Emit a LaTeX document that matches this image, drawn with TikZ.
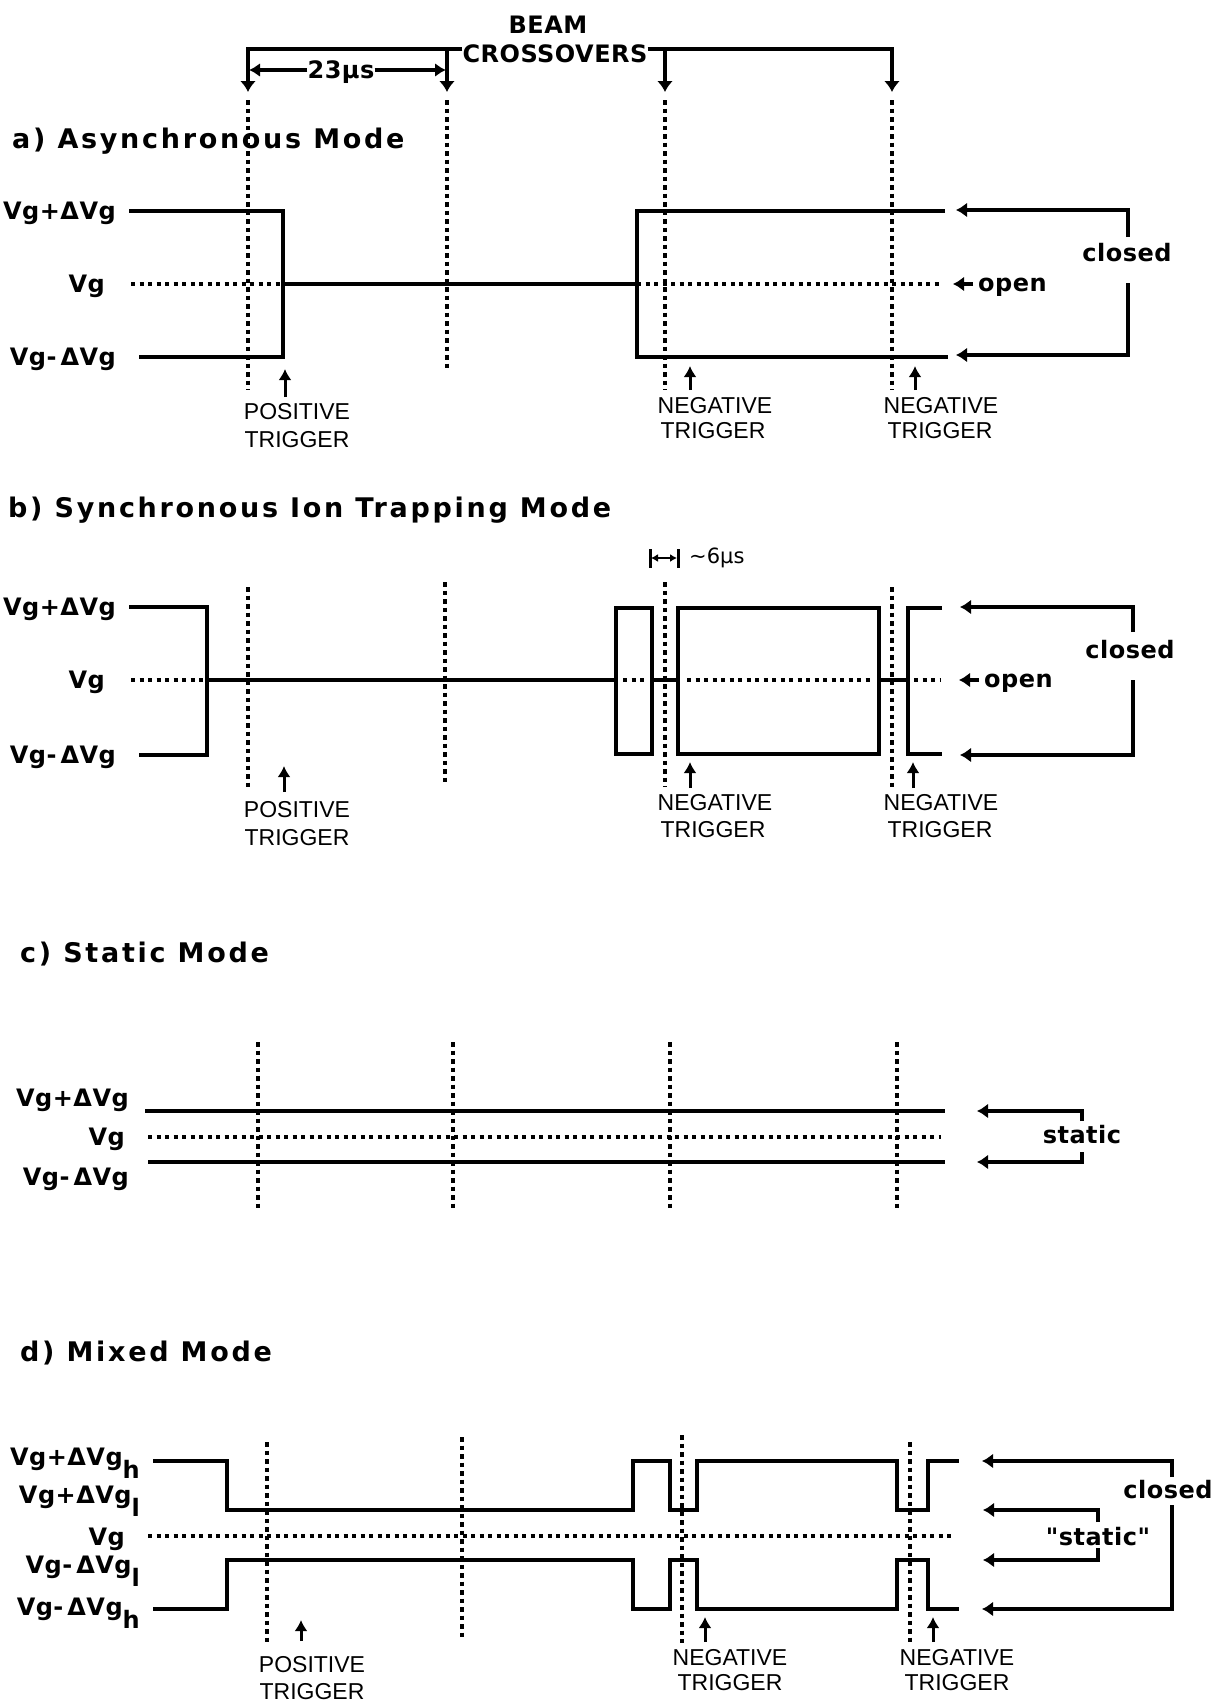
\documentclass[tikz,border=0pt]{standalone}
\usepackage{fontspec}
\usetikzlibrary{arrows.meta}
\newfontfamily\ttlfont[LetterSpace=10]{DejaVu Sans}
\newfontfamily\lblfont[LetterSpace=2]{DejaVu Sans}
\newfontfamily\trgfont{Liberation Sans}
\newfontfamily\smlfont{DejaVu Sans}
\begin{document}
\begin{tikzpicture}[x=1pt,y=-1pt,
  wave/.style={line width=4pt},
  vdot/.style={line width=4pt,dash pattern=on 4.5pt off 4pt},
  hdot/.style={line width=4pt,dash pattern=on 4pt off 4.5pt},
  brk/.style={line width=4pt},
  barrow/.style={line width=4pt,-{Latex[width=16pt,length=11pt]}},
  larrow/.style={line width=4pt,-{Latex[width=15pt,length=11pt]}},
  trig/.style={line width=3pt,-{Latex[width=13pt,length=11pt]}},
  ttl/.style={font={\ttlfont\bfseries\fontsize{27}{32}\selectfont},anchor=base west,inner sep=0pt},
  lbl/.style={font={\lblfont\bfseries\fontsize{24}{28}\selectfont},inner sep=0pt},
  trg/.style={font={\trgfont\fontsize{23}{27}\selectfont},anchor=base,inner sep=0pt},
  sml/.style={font={\smlfont\fontsize{21}{25}\selectfont},inner sep=0pt}
]
\useasboundingbox[fill=white] (0,0) rectangle (1228,1703);

% ---------------- top bracket ----------------
\node[lbl,anchor=base] (beam) at (548,33) {BEAM};
\node[lbl,anchor=base] (cross) at (555,62) {CROSSOVERS};
\draw[barrow] (cross.west |- 0,49) -- (248,49) -- (248,92);
\draw[barrow] (447,49) -- (447,92);
\draw[barrow] (cross.east |- 0,49) -- (892,49) -- (892,92);
\draw[barrow] (665,49) -- (665,92);
\node[lbl,anchor=base] (t23) at (341,78) {23μs};
\draw[line width=3.5pt,-{Latex[width=14pt,length=11pt]}] (t23.west |- 0,70) -- (249,70);
\draw[line width=3.5pt,-{Latex[width=14pt,length=11pt]}] (t23.east |- 0,70) -- (446,70);

% ---------------- a) ----------------
\node[ttl] (ta) at (12,148) {a) Asynchronous Mode};
\node[lbl,anchor=base east] (a1) at (116,219) {Vg+ΔVg};
\node[lbl,anchor=base east] (a2) at (105,292) {Vg};
\node[lbl,anchor=base east] (a3) at (116,365) {Vg-\,ΔVg};
\draw[vdot] (248,100) -- (248,390);
\draw[vdot] (447,100) -- (447,368);
\draw[vdot] (665,100) -- (665,390);
\draw[vdot] (892,100) -- (892,390);
\draw[wave] (129,211) -- (283,211) -- (283,357) -- (139,357);
\draw[hdot] (131,284) -- (283,284);
\draw[wave] (283,284) -- (637,284);
\draw[hdot] (637,284) -- (942,284);
\draw[wave] (945,211) -- (637,211) -- (637,357) -- (948,357);
\draw[larrow] (1128,237) -- (1128,210) -- (956,210);
\draw[larrow] (1128,283) -- (1128,355) -- (956,355);
\node[lbl] (ca) at (1127,253) {closed};
\node[lbl,anchor=base west] (oa) at (978,291) {open};
\draw[larrow] (973,284) -- (953,284);
\draw[trig] (285,397) -- (285,369);
\draw[trig] (690,390) -- (690,366);
\draw[trig] (915,390) -- (915,366);
\node[trg] (pa1) at (297,419) {POSITIVE};
\node[trg] (pa2) at (297,447) {TRIGGER};
\node[trg] (na1) at (715,413) {NEGATIVE};
\node[trg] (na2) at (713,438) {TRIGGER};
\node[trg] (nb1) at (941,413) {NEGATIVE};
\node[trg] (nb2) at (940,438) {TRIGGER};

% ---------------- b) ----------------
\node[ttl] (tb) at (8,517) {b) Synchronous Ion Trapping Mode};
\node[lbl,anchor=base east] (b1) at (116,615) {Vg+ΔVg};
\node[lbl,anchor=base east] (b2) at (105,688) {Vg};
\node[lbl,anchor=base east] (b3) at (116,763) {Vg-\,ΔVg};
\draw[vdot] (248,587) -- (248,787);
\draw[vdot] (445,582) -- (445,785);
\draw[vdot] (665,582) -- (665,787);
\draw[vdot] (892,587) -- (892,787);
\draw[wave] (129,607) -- (207,607) -- (207,755) -- (139,755);
\draw[hdot] (131,680) -- (207,680);
\draw[wave] (207,680) -- (616,680);
\draw[wave] (616,608) rectangle (652,754);
\draw[hdot] (623,680) -- (648,680);
\draw[wave] (652,680) -- (678,680);
\draw[wave] (678,608) rectangle (879,754);
\draw[hdot] (687,680) -- (873,680);
\draw[wave] (879,680) -- (908,680);
\draw[wave] (942,608) -- (908,608) -- (908,754) -- (942,754);
\draw[hdot] (914,680) -- (940,680);
\draw[line width=3pt] (650,549) -- (650,568);
\draw[line width=3pt] (678,549) -- (678,568);
\draw[line width=2pt,{Latex[width=8pt,length=7pt]}-{Latex[width=8pt,length=7pt]}] (651,558) -- (677,558);
\node[sml,anchor=west] (t6) at (689,558) {∼6μs};
\draw[larrow] (1133,632) -- (1133,607) -- (960,607);
\draw[larrow] (1133,680) -- (1133,755) -- (960,755);
\node[lbl] (cb) at (1130,650) {closed};
\node[lbl,anchor=base west] (ob) at (984,687) {open};
\draw[larrow] (979,680) -- (959,680);
\draw[trig] (284,792) -- (284,766);
\draw[trig] (690,788) -- (690,762);
\draw[trig] (913,788) -- (913,762);
\node[trg] (pb1) at (297,817) {POSITIVE};
\node[trg] (pb2) at (297,845) {TRIGGER};
\node[trg] (nc1) at (715,810) {NEGATIVE};
\node[trg] (nc2) at (713,837) {TRIGGER};
\node[trg] (nd1) at (941,810) {NEGATIVE};
\node[trg] (nd2) at (940,837) {TRIGGER};

% ---------------- c) ----------------
\node[ttl] (tc) at (20,962) {c) Static Mode};
\node[lbl,anchor=base east] (c1) at (129,1106) {Vg+ΔVg};
\node[lbl,anchor=base east] (c2) at (125,1145) {Vg};
\node[lbl,anchor=base east] (c3) at (129,1185) {Vg-\,ΔVg};
\draw[vdot] (258,1042) -- (258,1208);
\draw[vdot] (453,1042) -- (453,1208);
\draw[vdot] (670,1042) -- (670,1208);
\draw[vdot] (897,1042) -- (897,1208);
\draw[wave] (145,1111) -- (945,1111);
\draw[hdot] (148,1137) -- (941,1137);
\draw[wave] (148,1162) -- (945,1162);
\draw[larrow] (1082,1121) -- (1082,1111) -- (977,1111);
\draw[larrow] (1082,1152) -- (1082,1162) -- (977,1162);
\node[lbl] (sc) at (1082,1135) {static};

% ---------------- d) ----------------
\node[ttl] (td) at (20,1361) {d) Mixed Mode};
\node[lbl,anchor=base east] (d1) at (140,1465) {Vg+ΔVg\raisebox{-13pt}{h}};
\node[lbl,anchor=base east] (d2) at (140,1503) {Vg+ΔVg\raisebox{-13pt}{l}};
\node[lbl,anchor=base east] (d3) at (125,1545) {Vg};
\node[lbl,anchor=base east] (d4) at (140,1573) {Vg-\,ΔVg\raisebox{-13pt}{l}};
\node[lbl,anchor=base east] (d5) at (140,1615) {Vg-\,ΔVg\raisebox{-13pt}{h}};
\draw[vdot] (267,1442) -- (267,1642);
\draw[vdot] (462,1437) -- (462,1640);
\draw[vdot] (682,1435) -- (682,1643);
\draw[vdot] (910,1442) -- (910,1643);
\draw[wave] (153,1461) -- (227,1461) -- (227,1510) -- (633,1510) -- (633,1461) -- (670,1461) -- (670,1510) -- (697,1510) -- (697,1461) -- (897,1461) -- (897,1510) -- (928,1510) -- (928,1461) -- (959,1461);
\draw[wave] (153,1609) -- (227,1609) -- (227,1560) -- (633,1560) -- (633,1609) -- (670,1609) -- (670,1560) -- (697,1560) -- (697,1609) -- (897,1609) -- (897,1560) -- (928,1560) -- (928,1609) -- (959,1609);
\draw[hdot] (148,1536) -- (953,1536);
\draw[larrow] (1172,1477) -- (1172,1461) -- (982,1461);
\draw[larrow] (1172,1505) -- (1172,1609) -- (982,1609);
\node[lbl] (cd) at (1168,1490) {closed};
\draw[larrow] (1098,1522) -- (1098,1510) -- (983,1510);
\draw[larrow] (1098,1548) -- (1098,1560) -- (983,1560);
\node[lbl] (sd) at (1098,1537) {"static"};
\draw[trig] (301,1641) -- (301,1620);
\draw[trig] (705,1642) -- (705,1617);
\draw[trig] (933,1642) -- (933,1617);
\node[trg] (pd1) at (312,1672) {POSITIVE};
\node[trg] (pd2) at (312,1699) {TRIGGER};
\node[trg] (ne1) at (730,1665) {NEGATIVE};
\node[trg] (ne2) at (730,1690) {TRIGGER};
\node[trg] (nf1) at (957,1665) {NEGATIVE};
\node[trg] (nf2) at (957,1690) {TRIGGER};
\end{tikzpicture}
\end{document}
